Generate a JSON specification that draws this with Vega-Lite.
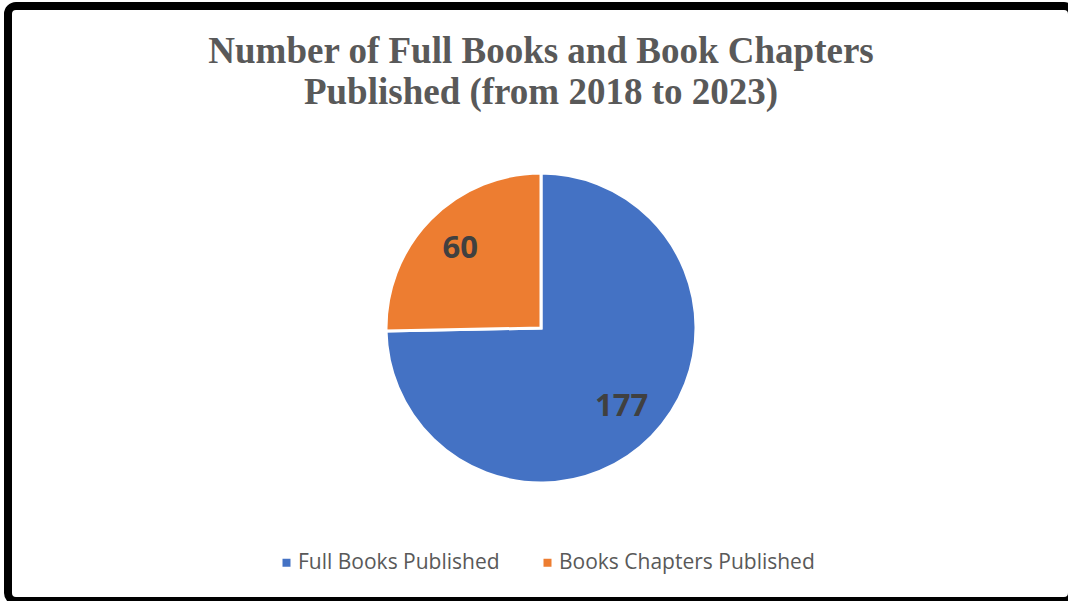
{
  "$schema": "https://vega.github.io/schema/vega-lite/v6.json",
  "width": 1064,
  "height": 595,
  "autosize": {"type": "none"},
  "padding": {"left": 8, "top": 6, "right": 0, "bottom": 0},
  "background": "white",
  "view": {"stroke": "#000000", "strokeWidth": 8, "cornerRadius": 8, "fill": "white"},
  "title": {
    "text": ["Number of Full Books and Book Chapters", "Published (from 2018 to 2023)"],
    "font": "Liberation Serif",
    "fontSize": 37,
    "fontWeight": "bold",
    "color": "#595959",
    "anchor": "middle",
    "frame": "group",
    "baseline": "alphabetic",
    "lineHeight": 41,
    "offset": -135,
    "dx": 1
  },
  "data": {"values": [
    {"category": "Full Books Published", "count": 177, "idx": 1},
    {"category": "Books Chapters Published", "count": 60, "idx": 2}
  ]},
  "encoding": {
    "theta": {"field": "count", "type": "quantitative", "stack": true},
    "order": {"field": "idx", "type": "quantitative"},
    "color": {
      "field": "category",
      "type": "nominal",
      "sort": null,
      "scale": {"domain": ["Full Books Published", "Books Chapters Published"], "range": ["#4472C4", "#ED7D31"]},
      "legend": {
        "orient": "none",
        "legendX": 268,
        "legendY": 546,
        "direction": "horizontal",
        "title": null,
        "symbolType": "square",
        "symbolSize": 64,
        "symbolStrokeWidth": 0,
        "labelFont": "Open Sans",
        "labelFontSize": 21,
        "labelColor": "#595959",
        "labelLimit": 400,
        "columnPadding": 37,
        "labelOffset": 1
      }
    }
  },
  "layer": [
    {"mark": {"type": "arc", "outerRadius": 155, "stroke": "white", "strokeWidth": 3, "xOffset": 1, "yOffset": 24.5}},
    {
      "mark": {"type": "text", "radius": 113, "xOffset": 1, "yOffset": 24.5, "font": "Open Sans", "fontSize": 31, "fontWeight": "bold", "align": "center", "baseline": "middle"},
      "encoding": {
        "text": {"field": "count", "type": "quantitative"},
        "detail": {"field": "category", "type": "nominal"},
        "color": {"value": "#404040"}
      }
    }
  ]
}
